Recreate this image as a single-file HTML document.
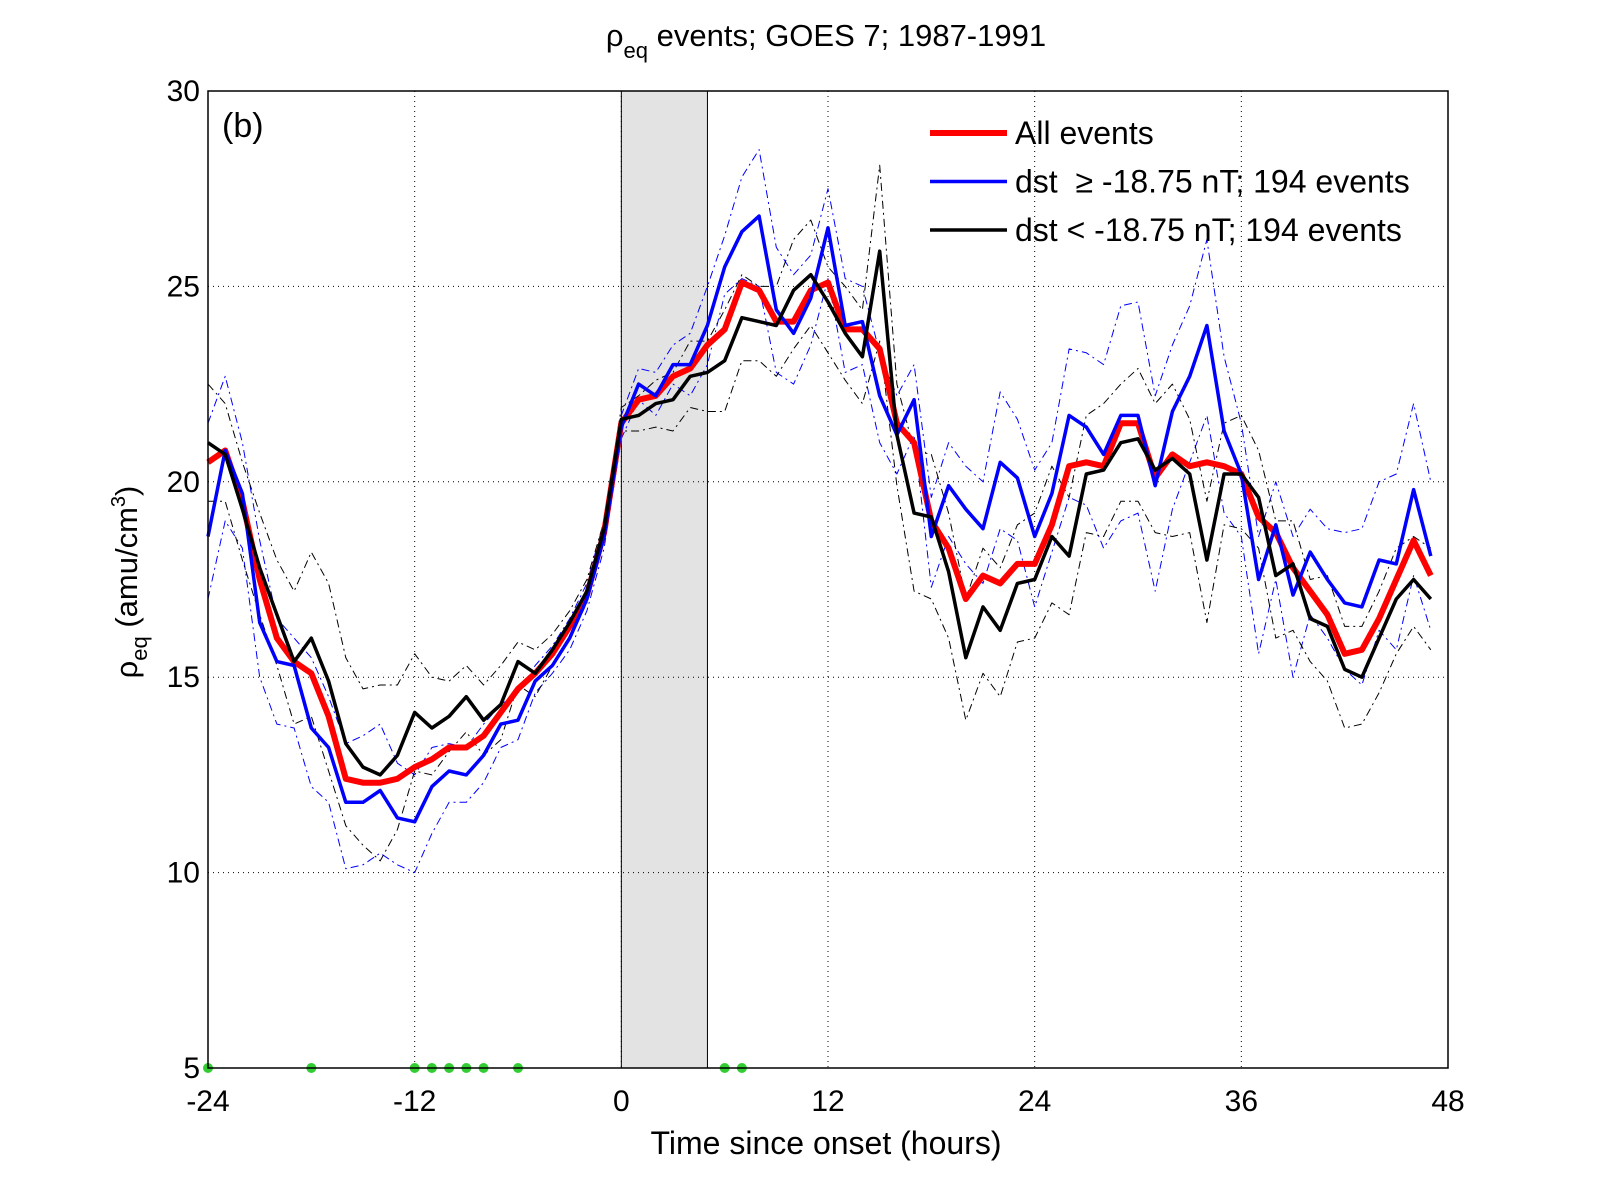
<!DOCTYPE html>
<html><head><meta charset="utf-8"><style>
html,body{margin:0;padding:0;background:#fff}
svg{display:block;font-family:"Liberation Sans",sans-serif}
</style></head><body>
<svg id="chart" width="1600" height="1200" viewBox="0 0 1600 1200" xmlns="http://www.w3.org/2000/svg"></svg>
<script>
const hours = [];
for (let h = -24; h <= 47; h++) hours.push(h);
const allEvents = [20.5,20.8,19.5,17.5,16,15.4,15.1,14,12.4,12.3,12.3,12.4,12.7,12.9,13.2,13.2,13.5,14.1,14.7,15.1,15.6,16.3,17.1,18.7,21.5,22.1,22.2,22.7,22.9,23.5,23.9,25.1,24.9,24.1,24.1,24.9,25.1,23.9,23.9,23.4,21.5,21,19,18.3,17,17.6,17.4,17.9,17.9,18.9,20.4,20.5,20.4,21.5,21.5,20.1,20.7,20.4,20.5,20.4,20.2,19.1,18.7,17.8,17.2,16.6,15.6,15.7,16.5,17.5,18.5,17.6];
const dstHigh = [18.6,20.8,19.7,16.4,15.4,15.3,13.7,13.2,11.8,11.8,12.1,11.4,11.3,12.2,12.6,12.5,13,13.8,13.9,14.9,15.3,16,17,18.6,21.4,22.5,22.2,23,23,24,25.5,26.4,26.8,24.4,23.8,24.7,26.5,24,24.1,22.2,21.2,22.1,18.6,19.9,19.3,18.8,20.5,20.1,18.6,19.7,21.7,21.4,20.7,21.7,21.7,19.9,21.8,22.7,24,21.3,20.2,17.5,18.9,17.1,18.2,17.5,16.9,16.8,18,17.9,19.8,18.1];
const dstLow = [21,20.7,19.3,17.8,16.6,15.4,16,14.9,13.3,12.7,12.5,13,14.1,13.7,14,14.5,13.9,14.3,15.4,15.1,15.7,16.4,17.2,18.8,21.6,21.7,22,22.1,22.7,22.8,23.1,24.2,24.1,24,24.9,25.3,24.6,23.8,23.2,25.9,21.2,19.2,19.1,17.7,15.5,16.8,16.2,17.4,17.5,18.6,18.1,20.2,20.3,21,21.1,20.3,20.6,20.2,18,20.2,20.2,19.6,17.6,17.9,16.5,16.3,15.2,15,16,17,17.5,17];
const dstHighUpper = [21.5,22.7,21,18.5,16.5,16,15.5,14.5,13.3,13.5,13.8,12.8,12.5,13.2,13.3,13.2,13.8,14.3,14.6,15.3,15.8,16.5,17.4,19,21.7,22.9,22.8,23.5,23.8,25,26.3,27.8,28.5,26,25.3,25.8,27.5,25.2,25,23.3,22.2,23,19.6,21,20.4,20,22.3,21.6,20.3,21,23.4,23.3,23,24.5,24.6,22.2,23.5,24.5,26.2,23.2,21.5,18.6,20,18.6,19.3,18.8,18.7,18.8,20,20.2,22,20];
const dstHighLower = [17,19,18.3,15,13.8,13.7,12.2,11.8,10.1,10.2,10.5,10.2,10,11,11.8,11.8,12.3,13.2,13.4,14.6,15.1,15.7,16.7,18.3,21.1,22.1,21.7,22.5,22.2,23,24.8,25.2,25,22.8,22.5,23.5,25.2,22.8,23,21,20.2,21.2,17.3,18.6,17.9,17.4,18.8,18.5,16.8,18.2,19.6,19.4,18.3,19,19.2,17.2,19.3,20.5,21.7,19.2,18.6,15.6,17.5,15,16.6,16,15.2,14.8,16.2,15.7,17.6,16.2];
const dstLowUpper = [22.5,22,20.5,19.2,18,17.2,18.2,17.4,15.5,14.7,14.8,14.8,15.6,15,14.9,15.3,14.8,15.3,15.9,15.7,16.1,16.7,17.5,19,21.9,22.2,22.6,22.8,23.6,23.6,24.4,25.3,25,25,26.2,26.7,25.5,25,24.4,28.1,22.5,20.8,20.7,19.2,17,18.3,17.8,18.9,19.2,20.4,19.6,21.7,22,22.5,22.9,22,22.5,21.6,19.5,21.5,21.7,20.8,19,19,17.5,17.6,16.3,16.3,17.2,18.3,18.6,18.3];
const dstLowLower = [19.5,19.5,18,16.6,15.3,13.8,14,12.6,11.2,10.7,10.3,11.1,12.6,12.5,13.1,13.6,13,13.4,14.8,14.5,15.3,16,16.9,18.6,21.3,21.3,21.4,21.3,21.9,21.8,21.8,23.1,23.1,22.7,23.4,24,23.3,22.6,22,23.6,19.9,17.2,17,16,13.9,15.1,14.5,15.9,16,16.9,16.6,18.7,18.6,19.5,19.5,18.7,18.6,18.7,16.4,18.9,18.8,18.3,16,16.2,15.4,14.9,13.7,13.8,14.6,15.6,16.3,15.7];
const markerHours = [-24,-18,-12,-11,-10,-9,-8,-6,6,7];
const xTicks = [-24,-12,0,12,24,36,48];
const yTicks = [5,10,15,20,25,30];
const shadeRange = [0,5];

const L=208,R=1448,T=91,B=1068;
const xS=h=>L+(h+24)/72*(R-L);
const yS=v=>B-(v-5)/25*(B-T);
const svg=document.getElementById('chart');
const NS='http://www.w3.org/2000/svg';
function mk(tag,attrs,parent){const e=document.createElementNS(NS,tag);for(const k in attrs)e.setAttribute(k,attrs[k]);(parent||svg).appendChild(e);return e;}

let e=mk('rect',{x:xS(shadeRange[0]),y:T,width:xS(shadeRange[1])-xS(shadeRange[0]),height:B-T,fill:'#e3e3e3',stroke:'#000','stroke-width':1});



xTicks.forEach(t=>{
  if(t>-24&&t<48){const g=mk('line',{x1:xS(t),x2:xS(t),y1:T,y2:B,stroke:'#000','stroke-width':1,'stroke-dasharray':'1,4'});
  
  }
  const tx=mk('text',{x:xS(t),y:B+43,'text-anchor':'middle','font-size':30});tx.textContent=t;
  
  
});
yTicks.forEach(t=>{
  if(t>5&&t<30){const g=mk('line',{x1:L,x2:R,y1:yS(t),y2:yS(t),stroke:'#000','stroke-width':1,'stroke-dasharray':'1,4'});
  
  }
  const tx=mk('text',{x:L-8,y:yS(t)+10,'text-anchor':'end','font-size':30});tx.textContent=t;
  
  
});

function line(data,color,w,dash,name){
  const d=data.map((v,i)=>(i?'L':'M')+xS(hours[i]).toFixed(1)+','+yS(v).toFixed(1)).join('');
  const p=mk('path',{d:d,fill:'none',stroke:color,'stroke-width':w,'stroke-linejoin':'round'});
  if(dash)p.setAttribute('stroke-dasharray',dash);
  
  
}
line(dstHighUpper,'#0000ff',1,'8,4,2,4','dst-high-upper-band');
line(dstHighLower,'#0000ff',1,'8,4,2,4','dst-high-lower-band');
line(dstLowUpper,'#000',1,'8,4,2,4','dst-low-upper-band');
line(dstLowLower,'#000',1,'8,4,2,4','dst-low-lower-band');
line(allEvents,'#ff0000',6,null,'all-events-line');
line(dstHigh,'#0000ff',3.5,null,'dst-high-line');
line(dstLow,'#000',3.5,null,'dst-low-line');

markerHours.forEach(h=>{const c=mk('circle',{cx:xS(h),cy:B,r:5,fill:'#33cc33'});
  
  });

e=mk('rect',{x:L,y:T,width:R-L,height:B-T,fill:'none',stroke:'#000','stroke-width':1.5});



e=mk('text',{x:222,y:137,'font-size':34});e.textContent='(b)';



const leg=[['All events','#ff0000',6],['dst\u00a0\u00a0\u2265 -18.75 nT; 194 events','#0000ff',3.5],['dst < -18.75 nT; 194 events','#000',3.5]];
leg.forEach((l,i)=>{const y=133+i*48.5;
  const ln=mk('line',{x1:930,x2:1007,y1:y,y2:y,stroke:l[1],'stroke-width':l[2]});
  
  
  const t=mk('text',{x:1015,y:y+11,'font-size':32});t.textContent=l[0];
  
  });

e=mk('text',{x:826,y:46,'text-anchor':'middle','font-size':31});
e.innerHTML='ρ<tspan font-size="22" dy="12">eq</tspan><tspan dy="-12"> events; GOES 7; 1987-1991</tspan>';



e=mk('text',{x:826,y:1154,'text-anchor':'middle','font-size':32});e.textContent='Time since onset (hours)';



e=mk('text',{x:0,y:0,'text-anchor':'middle','font-size':31,transform:'translate(137,582) rotate(-90)'});
e.innerHTML='ρ<tspan font-size="22" dy="10">eq</tspan><tspan dy="-10"> (amu/cm</tspan><tspan font-size="20" dy="-12">3</tspan><tspan dy="12">)</tspan>';


</script>
</body></html>
